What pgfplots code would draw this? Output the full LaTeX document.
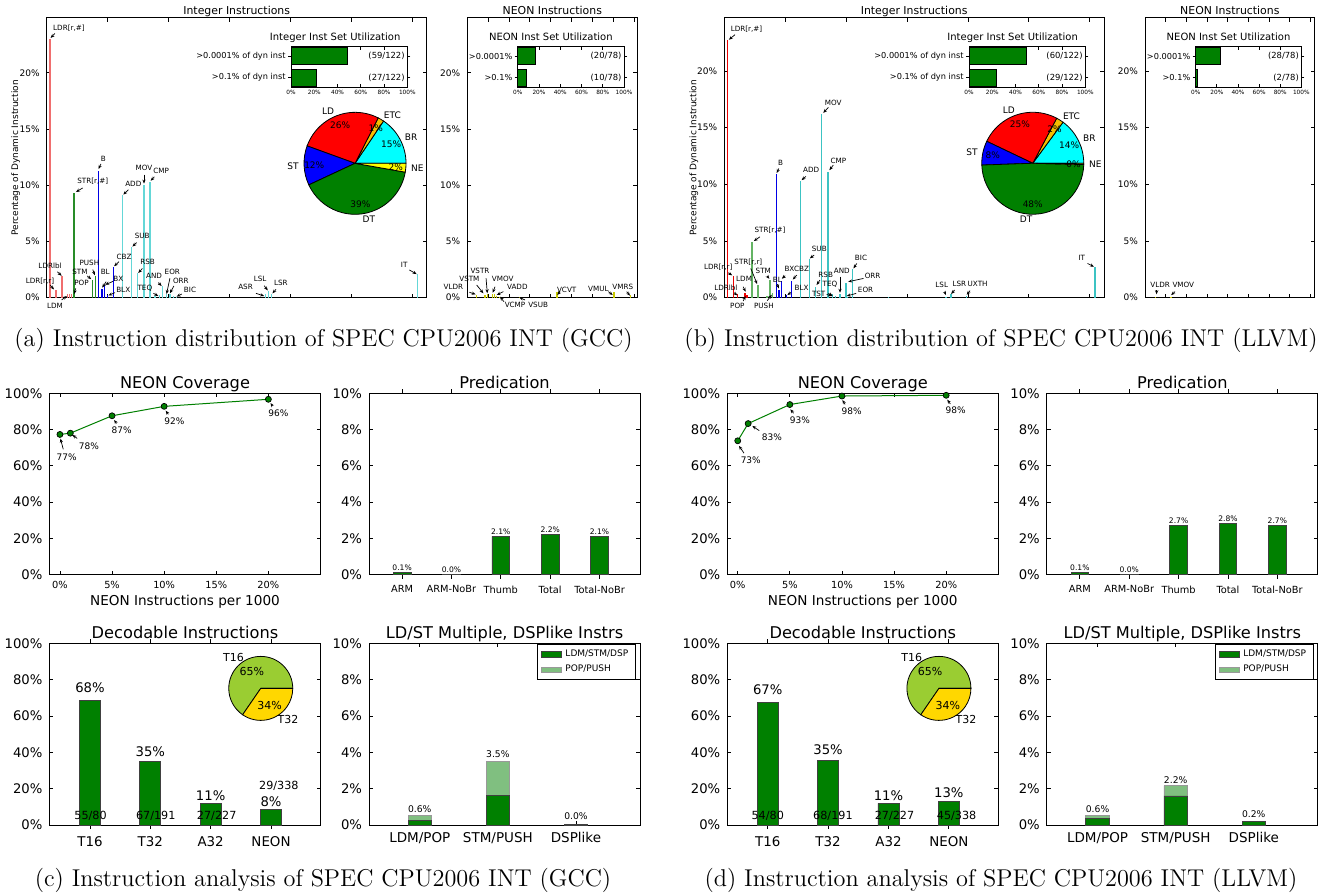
\documentclass[border=0pt]{standalone}
\usepackage{pgfplots}
\pgfplotsset{compat=1.18}
\usepackage{fontspec}
\usetikzlibrary{arrows.meta}
\newfontfamily\dv{DejaVu Sans}
\newcommand\fs[1]{\dv\fontsize{#1}{#1}\selectfont}
\definecolor{mg}{rgb}{0,0.5,0}
\definecolor{lg}{rgb}{0.5,0.75,0.5}
\definecolor{ldA}{RGB}{240,110,110}
\definecolor{stA}{RGB}{40,140,40}
\definecolor{brA}{RGB}{0,0,230}
\definecolor{aluA}{RGB}{100,215,215}
\definecolor{ldB}{RGB}{235,0,0}
\definecolor{stB}{RGB}{100,180,100}
\definecolor{brB}{RGB}{0,0,230}
\definecolor{aluB}{RGB}{60,195,195}
\definecolor{neo}{RGB}{200,200,0}
\definecolor{pLD}{RGB}{255,0,0}
\definecolor{pETC}{RGB}{245,190,0}
\definecolor{pNE}{RGB}{255,255,0}
\definecolor{pBR}{RGB}{0,255,255}
\definecolor{pST}{RGB}{0,0,255}
\definecolor{pDT}{RGB}{0,128,0}
\definecolor{t16c}{RGB}{154,205,50}
\definecolor{t32c}{RGB}{255,215,0}
\tikzset{ann/.style={-{Stealth[length=2pt,width=1.6pt]}, line width=0.35pt}}
\pgfplotsset{
  mybase/.style={scale only axis, clip=false, anchor=south west,
    axis line style={line width=0.5pt}, tick align=inside, tick pos=both,
    major tick length=2pt, every tick/.style={black, line width=0.4pt},
    /pgf/number format/assume math mode=true,
    yticklabel={\pgfmathprintnumber{\tick}\%}},
  inset/.style={mybase, xbar, bar width=0.8, xmin=0, xmax=100, ymin=-0.45, ymax=1.45,
    height=20.3pt, ytick={0,1}, xtick={0,20,...,100}, major tick length=1.5pt,
    xticklabel={\pgfmathprintnumber{\tick}\%},
    xticklabel style={font=\fs{2.9}, inner sep=1pt}, yticklabel style={font=\fs{4.1}, inner sep=1pt}},
  ldleg/.style={legend cell align=left,
    legend style={at={(1,1)}, anchor=north east, xshift=-2pt, yshift=-0.4pt, font=\fs{4.5}, draw=black, line width=0.5pt, inner xsep=2pt, inner ysep=1.5pt, row sep=1.2pt, nodes={inner ysep=0.9pt, inner xsep=1.6pt}},
    legend image code/.code={\draw[##1, line width=0.4pt] (0pt,-1.4pt) rectangle (10pt,1.4pt);}},
}
% annotation: size, label x,y, arrow from x,y, arrow to x,y, text
\newcommand\an[8]{\draw[ann] (axis cs:#4,#5) -- (axis cs:#6,#7); \node[font=\fs{#1}, inner sep=0pt] at (axis cs:#2,#3) {#8};}
\newcommand\slice[5]{\filldraw[fill=#5, draw=black, line width=0.4pt] (#1) -- ++(#3:#2) arc[start angle=#3, end angle=#4, radius=#2] -- cycle;}
\newcommand\plab[6]{\path (#1) ++(#2:#3) node[anchor=#4, font=\fs{#5}, inner sep=0pt] {#6};}
\begin{document}
\begin{tikzpicture}
\useasboundingbox (0,0) rectangle (668pt,-447.5pt);
\fill[white] (0,0) rectangle (668pt,-447.5pt);

%================ (a) Integer =================
\begin{axis}[mybase, at={(23.35pt,-148.85pt)}, width=190pt, height=140pt,
  xmin=0, xmax=124.6, ymin=0, ymax=24.9, xtick={0,20,...,120}, xticklabels={},
  ytick={0,5,...,20}, yticklabel style={font=\fs{4.5}}]
\addplot[ycomb, draw=ldA, line width=0.7pt] coordinates {(1.1,23.0) (3.1,0.68) (5.0,1.93) (6.8,0.3) (7.4,0.3) (8.1,0.3)};
\addplot[ycomb, draw=stA, line width=0.7pt] coordinates {(9.0,9.35) (15.1,1.58) (16.0,1.9)};
\addplot[ycomb, draw=brA, line width=0.7pt] coordinates {(16.9,11.3) (18.1,0.8) (18.9,1.1) (20.0,0.2) (21.9,2.7)};
\addplot[ycomb, draw=aluA, line width=0.7pt] coordinates {(24.9,9.1) (27.9,4.5) (29.8,2.17) (31.9,10.06) (33.9,10.3) (35.5,0.15) (37.0,0.25) (37.9,1.04) (39.3,0.3) (40.4,0.35) (41.5,0.15) (42.6,0.1) (71.8,0.3) (72.7,0.6) (73.8,0.33) (121.5,2.1)};
\node[font=\fs{5.45}, anchor=base, yshift=1.85pt] at (rel axis cs:0.5,1) {Integer Instructions};
\node[font=\fs{4.5}, rotate=90] at (rel axis cs:-0.0816,0.5) {Percentage of Dynamic Instruction};
\an{3.6}{7.3}{24.0}{2.7}{23.5}{1.3}{23.1}{LDR[r,\#]}
\an{3.6}{-2.2}{1.49}{1.1}{1.13}{2.4}{0.74}{LDR[r,r]}
\an{3.6}{1.1}{2.83}{3.5}{2.3}{4.9}{1.95}{LDRlbl}
\an{3.6}{2.7}{-0.74}{4.9}{-0.2}{6.6}{0.15}{LDM}
\an{3.6}{11.4}{1.28}{9.5}{0.83}{9.0}{0.33}{POP}
\an{3.6}{15.1}{10.36}{11.8}{9.76}{9.6}{9.4}{STR[r,\#]}
\an{3.6}{10.9}{2.3}{13.3}{1.93}{14.6}{1.65}{STM}
\an{3.6}{14.0}{3.1}{15.1}{2.5}{15.8}{2.0}{PUSH}
\an{3.6}{18.6}{12.35}{17.8}{11.9}{17.0}{11.45}{B}
\an{3.6}{19.2}{2.26}{19.5}{1.43}{18.2}{0.9}{BL}
\an{3.6}{23.5}{1.67}{21.7}{1.45}{19.2}{1.15}{BX}
\an{3.6}{25.1}{0.68}{22.4}{0.45}{20.2}{0.2}{BLX}
\an{3.6}{25.4}{3.66}{23.7}{3.2}{22.1}{2.8}{CBZ}
\an{3.6}{28.4}{10.1}{26.8}{9.6}{25.1}{9.17}{ADD}
\an{3.6}{31.3}{5.5}{29.5}{4.9}{28.1}{4.55}{SUB}
\an{3.6}{33.1}{3.18}{31.4}{2.6}{30.0}{2.2}{RSB}
\an{3.6}{31.9}{11.55}{31.9}{10.95}{31.9}{10.15}{MOV}
\an{3.6}{37.5}{11.3}{35.3}{10.75}{34.1}{10.4}{CMP}
\an{3.6}{32.2}{0.83}{35.0}{0.39}{36.6}{0.15}{TEQ}
\an{3.6}{35.2}{1.93}{36.6}{1.34}{37.7}{1.04}{AND}
\an{3.6}{41.2}{2.26}{40.4}{1.73}{39.3}{0.33}{EOR}
\an{3.6}{44.0}{1.49}{41.7}{1.04}{40.4}{0.39}{ORR}
\an{3.6}{47.0}{0.68}{44.3}{0.33}{42.6}{0.1}{BIC}
\an{3.6}{65.2}{0.92}{68.6}{0.39}{71.3}{0.15}{ASR}
\an{3.6}{70.0}{1.64}{71.3}{1.07}{72.5}{0.65}{LSL}
\an{3.6}{76.8}{1.28}{75.2}{0.74}{74.0}{0.39}{LSR}
\an{3.6}{117.2}{2.89}{118.9}{2.47}{121.3}{2.1}{IT}
% pie
\slice{axis cs:101.1,11.95}{25.5pt}{0}{56}{pBR}
\slice{axis cs:101.1,11.95}{25.5pt}{56}{63}{pETC}
\slice{axis cs:101.1,11.95}{25.5pt}{63}{160}{pLD}
\slice{axis cs:101.1,11.95}{25.5pt}{160}{205}{pST}
\slice{axis cs:101.1,11.95}{25.5pt}{205}{350}{pDT}
\slice{axis cs:101.1,11.95}{25.5pt}{350}{360}{pNE}
\plab{axis cs:101.1,11.95}{28}{28pt}{west}{4.5}{BR}
\plab{axis cs:101.1,11.95}{59.5}{28pt}{west}{4.5}{ETC}
\plab{axis cs:101.1,11.95}{111.5}{28pt}{east}{4.5}{LD}
\plab{axis cs:101.1,11.95}{182.5}{28pt}{east}{4.5}{ST}
\plab{axis cs:101.1,11.95}{277.5}{28pt}{west}{4.5}{DT}
\plab{axis cs:101.1,11.95}{355}{28pt}{west}{4.5}{NE}
\plab{axis cs:101.1,11.95}{28}{20.4pt}{center}{4.5}{15\%}
\plab{axis cs:101.1,11.95}{59.5}{20.4pt}{center}{4.5}{1\%}
\plab{axis cs:101.1,11.95}{111.5}{20.4pt}{center}{4.5}{26\%}
\plab{axis cs:101.1,11.95}{182.5}{20.4pt}{center}{4.5}{12\%}
\plab{axis cs:101.1,11.95}{277.5}{20.4pt}{center}{4.5}{39\%}
\plab{axis cs:101.1,11.95}{355}{20.4pt}{center}{4.5}{2\%}
\end{axis}

\begin{axis}[inset, at={(145.5pt,-43.65pt)}, width=58.15pt,
  yticklabels={{>0.1\% of dyn inst},{>0.0001\% of dyn inst}}]
\addplot[fill=mg, draw=black, line width=0.4pt] coordinates {(22.1,0) (48.4,1)};
\node[font=\fs{5}, anchor=base, yshift=3.35pt, xshift=-7pt] at (rel axis cs:0.5,1) {Integer Inst Set Utilization};
\node[font=\fs{4.2}, anchor=east, inner sep=0pt] at (axis cs:98,1) {(59/122)};
\node[font=\fs{4.2}, anchor=east, inner sep=0pt] at (axis cs:98,0) {(27/122)};
\end{axis}

%================ (a) NEON =================
\begin{axis}[mybase, at={(233.65pt,-148.85pt)}, width=85pt, height=140pt,
  xmin=0, xmax=81.6, ymin=0, ymax=24.9, xtick={0,10,...,80}, xticklabels={},
  ytick={0,5,...,20}, yticklabel style={font=\fs{4.5}}]
\addplot[ycomb, draw=neo, line width=0.7pt] coordinates {(4.5,0.25) (8.5,0.2) (9.6,0.3) (12.2,0.35) (13,0.3) (14.1,0.15) (15.7,0.08) (25,0.05) (43,0.54) (70.4,0.54) (78.4,0.2)};
\node[font=\fs{5.45}, anchor=base, yshift=1.85pt] at (rel axis cs:0.5,1) {NEON Instructions};
\an{3.6}{-6.7}{0.98}{1}{0.48}{4}{0.3}{VLDR}
\an{3.6}{1}{1.64}{4.5}{1.13}{7.7}{0.39}{VSTM}
\an{3.6}{6.1}{2.4}{9}{1.73}{9.6}{0.39}{VSTR}
\an{3.6}{17}{1.64}{13.3}{0.98}{12.2}{0.45}{VMOV}
\an{3.6}{24}{0.98}{17.3}{0.54}{14.1}{0.24}{VADD}
\an{3.6}{22.9}{-0.65}{17.6}{-0.36}{15.7}{0.09}{VCMP}
\an{3.6}{34}{-0.65}{27.7}{-0.2}{25}{0.02}{VSUB}
\an{3.6}{47.7}{0.74}{44.5}{0.54}{43.2}{0.24}{VCVT}
\an{3.6}{62.9}{0.74}{67.7}{0.54}{69.8}{0.24}{VMUL}
\an{3.6}{74.6}{0.92}{76.5}{0.54}{78.1}{0.18}{VMRS}
\end{axis}

\begin{axis}[inset, at={(258.85pt,-43.65pt)}, width=53.15pt,
  yticklabels={{>0.1\%},{>0.0001\%}}]
\addplot[fill=mg, draw=black, line width=0.4pt] coordinates {(8.5,0) (16.9,1)};
\node[font=\fs{5}, anchor=base, yshift=3.35pt, xshift=-10pt] at (rel axis cs:0.5,1) {NEON Inst Set Utilization};
\node[font=\fs{4.2}, anchor=east, inner sep=0pt] at (axis cs:98,1) {(20/78)};
\node[font=\fs{4.2}, anchor=east, inner sep=0pt] at (axis cs:98,0) {(10/78)};
\end{axis}

%================ (b) Integer =================
\begin{axis}[mybase, at={(362.15pt,-148.85pt)}, width=189.85pt, height=140pt,
  xmin=0, xmax=124.7, ymin=0, ymax=24.7, xtick={0,20,...,120}, xticklabels={},
  ytick={0,5,...,20}, yticklabel style={font=\fs{4.5}}]
\addplot[ycomb, draw=ldB, line width=0.7pt] coordinates {(1.1,22.7) (3.0,1.9) (4.3,0.3) (6.8,0.4) (7.5,0.25)};
\addplot[ycomb, draw=stB, line width=0.7pt] coordinates {(9.1,4.93) (11.0,1.1) (14.0,0.15) (15.0,1.56) (15.9,0.44)};
\addplot[ycomb, draw=brB, line width=0.7pt] coordinates {(17.1,10.87) (18.0,0.68) (18.8,1.47) (20.5,0.2) (22.1,1.5)};
\addplot[ycomb, draw=aluB, line width=0.7pt] coordinates {(25.1,10.28) (27.9,3.38) (29.9,0.97) (32.0,16.2) (34.0,11.1) (35.5,0.3) (36.5,0.15) (38.0,0.35) (39.9,1.32) (40.5,0.1) (42.1,2.5) (54,0.05) (72.8,0.1) (74.5,0.3) (79.6,0.15) (121.8,2.67)};
\node[font=\fs{5.45}, anchor=base, yshift=1.85pt] at (rel axis cs:0.5,1) {Integer Instructions};
\node[font=\fs{4.5}, rotate=90] at (rel axis cs:-0.0798,0.5) {Percentage of Dynamic Instruction};
\an{3.6}{7.3}{23.67}{3.5}{23.2}{1.5}{22.76}{LDR[r,\#]}
\an{3.6}{-2.0}{2.67}{1.3}{2.2}{2.6}{1.97}{LDR[r,r]}
\an{3.6}{7.9}{3.11}{8.7}{2.58}{10.8}{1.2}{STR[r,r]}
\an{3.6}{6.5}{1.64}{6.2}{0.97}{7.0}{0.53}{LDM}
\an{3.6}{0.5}{0.91}{3.2}{0.44}{4.3}{0.2}{LDRlbl}
\an{3.6}{4.3}{-0.73}{6.2}{-0.29}{7.0}{0.15}{POP}
\an{3.6}{15.0}{5.96}{11.7}{5.37}{9.7}{5.0}{STR[r,\#]}
\an{3.6}{12.8}{2.35}{14.1}{1.9}{14.8}{1.67}{STM}
\an{3.6}{13.0}{-0.73}{14.1}{-0.26}{15.6}{0.26}{PUSH}
\an{3.6}{18.5}{11.9}{17.9}{11.4}{17.2}{11.0}{B}
\an{3.6}{17.4}{1.6}{17.4}{1.2}{17.9}{0.82}{BL}
\an{3.6}{21.4}{2.58}{20.0}{1.94}{18.9}{1.67}{BX}
\an{3.6}{25.4}{2.58}{23.8}{2.0}{22.5}{1.6}{CBZ}
\an{3.6}{25.4}{0.91}{21.9}{0.47}{20.7}{0.23}{BLX}
\an{3.6}{28.5}{11.3}{26.8}{10.7}{25.4}{10.37}{ADD}
\an{3.6}{31.2}{4.35}{29.5}{3.76}{28.1}{3.47}{SUB}
\an{3.6}{35.8}{17.2}{34.2}{16.8}{32.5}{16.3}{MOV}
\an{3.6}{37.5}{12.1}{35.8}{11.7}{34.5}{11.25}{CMP}
\an{3.6}{33.3}{2.0}{31.4}{1.56}{30.3}{1.12}{RSB}
\an{3.6}{34.7}{1.17}{34.2}{0.38}{35.6}{0.15}{TEQ}
\an{3.6}{31.0}{0.38}{33.6}{0.29}{35.3}{0.15}{TST}
\an{3.6}{38.6}{2.35}{38.0}{1.85}{38.0}{0.44}{AND}
\an{3.6}{48.7}{1.91}{45.7}{1.7}{40.7}{1.41}{ORR}
\an{3.6}{44.9}{3.52}{43.5}{3.02}{42.4}{2.58}{BIC}
\an{3.6}{46.4}{0.65}{43.3}{0.38}{40.2}{0.15}{EOR}
\an{3.6}{71.4}{1.12}{72.3}{0.53}{72.8}{0.23}{LSL}
\an{3.6}{77.2}{1.2}{75.6}{0.68}{74.5}{0.32}{LSR}
\an{3.6}{83.2}{1.2}{80.7}{0.62}{79.6}{0.26}{UXTH}
\an{3.6}{117.4}{3.47}{119.3}{3.02}{121.4}{2.73}{IT}
% pie
\slice{axis cs:101.3,11.86}{25.5pt}{0}{53.6}{pBR}
\slice{axis cs:101.3,11.86}{25.5pt}{53.6}{62}{pETC}
\slice{axis cs:101.3,11.86}{25.5pt}{62}{154.5}{pLD}
\slice{axis cs:101.3,11.86}{25.5pt}{154.5}{182}{pST}
\slice{axis cs:101.3,11.86}{25.5pt}{182}{358.5}{pDT}
\slice{axis cs:101.3,11.86}{25.5pt}{358.5}{360}{pNE}
\plab{axis cs:101.3,11.86}{26.8}{28pt}{west}{4.5}{BR}
\plab{axis cs:101.3,11.86}{57.8}{28pt}{west}{4.5}{ETC}
\plab{axis cs:101.3,11.86}{108.25}{28pt}{east}{4.5}{LD}
\plab{axis cs:101.3,11.86}{168.25}{28pt}{east}{4.5}{ST}
\plab{axis cs:101.3,11.86}{270}{28pt}{east}{4.5}{DT}
\plab{axis cs:101.3,11.86}{359.2}{28pt}{west}{4.5}{NE}
\plab{axis cs:101.3,11.86}{26.8}{20.4pt}{center}{4.5}{14\%}
\plab{axis cs:101.3,11.86}{57.8}{20.4pt}{center}{4.5}{2\%}
\plab{axis cs:101.3,11.86}{108.25}{20.4pt}{center}{4.5}{25\%}
\plab{axis cs:101.3,11.86}{168.25}{20.4pt}{center}{4.5}{8\%}
\plab{axis cs:101.3,11.86}{270}{20.4pt}{center}{4.5}{48\%}
\plab{axis cs:101.3,11.86}{359.2}{20.4pt}{center}{4.5}{0\%}
\end{axis}

\begin{axis}[inset, at={(484.5pt,-43.65pt)}, width=58.15pt,
  yticklabels={{>0.1\% of dyn inst},{>0.0001\% of dyn inst}}]
\addplot[fill=mg, draw=black, line width=0.4pt] coordinates {(23.8,0) (49.2,1)};
\node[font=\fs{5}, anchor=base, yshift=3.35pt, xshift=-7.25pt] at (rel axis cs:0.5,1) {Integer Inst Set Utilization};
\node[font=\fs{4.2}, anchor=east, inner sep=0pt] at (axis cs:98,1) {(60/122)};
\node[font=\fs{4.2}, anchor=east, inner sep=0pt] at (axis cs:98,0) {(29/122)};
\end{axis}

%================ (b) NEON =================
\begin{axis}[mybase, at={(572.5pt,-148.85pt)}, width=84.85pt, height=140pt,
  xmin=0, xmax=82, ymin=0, ymax=24.7, xtick={0,10,...,80}, xticklabels={},
  ytick={0,5,...,20}, yticklabel style={font=\fs{4.5}}]
\addplot[ycomb, draw=neo, line width=0.7pt] coordinates {(5.2,0.1) (12.6,0.08)};
\node[font=\fs{5.45}, anchor=base, yshift=1.85pt] at (rel axis cs:0.5,1) {NEON Instructions};
\an{3.6}{7.3}{1.12}{5.6}{0.68}{5.6}{0.3}{VLDR}
\an{3.6}{18.5}{1.12}{14.5}{0.53}{12.6}{0.23}{VMOV}
\end{axis}

\begin{axis}[inset, at={(597.85pt,-43.65pt)}, width=52.8pt,
  yticklabels={{>0.1\%},{>0.0001\%}}]
\addplot[fill=mg, draw=black, line width=0.4pt] coordinates {(2,0) (23,1)};
\node[font=\fs{5}, anchor=base, yshift=3.35pt, xshift=-10pt] at (rel axis cs:0.5,1) {NEON Inst Set Utilization};
\node[font=\fs{4.2}, anchor=east, inner sep=0pt] at (axis cs:98,1) {(28/78)};
\node[font=\fs{4.2}, anchor=east, inner sep=0pt] at (axis cs:98,0) {(2/78)};
\end{axis}

%================ (c) NEON Coverage =================
\begin{axis}[mybase, at={(24.75pt,-287.25pt)}, width=135.5pt, height=90.6pt,
  xmin=-1, xmax=25, ymin=0, ymax=100, xtick={0,5,...,20}, ytick={0,20,...,100},
  xticklabel={\pgfmathprintnumber{\tick}\%},
  xticklabel style={font=\fs{4.9}}, yticklabel style={font=\fs{6.6}}]
\addplot[mg, line width=0.5pt, mark=*, mark size=1.5pt, mark options={fill=mg, draw=black, line width=0.35pt}] coordinates {(0,77.3) (1,78.0) (5,87.6) (10,92.8) (20,96.7)};
\node[font=\fs{8.1}, anchor=base, yshift=2.5pt] at (rel axis cs:0.5,1) {NEON Coverage};
\node[font=\fs{6.8}, anchor=base, yshift=-15.25pt] at (rel axis cs:0.5,0) {NEON Instructions per 1000};
\an{4.5}{0.64}{64.6}{0.32}{69.1}{0.05}{75}{77\%}
\an{4.5}{2.78}{70.9}{1.66}{75.1}{1.2}{77}{78\%}
\an{4.5}{5.93}{79.4}{5.43}{83.4}{5.2}{85.3}{87\%}
\an{4.5}{10.98}{84.7}{10.4}{88.4}{10.15}{90.4}{92\%}
\an{4.5}{20.96}{88.8}{20.4}{93}{20.2}{94.6}{96\%}
\end{axis}

%================ (c) Predication =================
\begin{axis}[mybase, at={(184.5pt,-287.25pt)}, width=135.5pt, height=90.6pt,
  ybar, bar width=0.36, xmin=-0.67, xmax=4.82, ymin=0, ymax=10,
  xtick={0,...,4}, xticklabels={ARM,ARM-NoBr,Thumb,Total,Total-NoBr}, ytick={0,2,...,10},
  xticklabel style={font=\fs{4.9}}, yticklabel style={font=\fs{6.6}},
  nodes near coords={\pgfmathprintnumber[fixed,fixed zerofill,precision=1]{\pgfplotspointmeta}\%},
  every node near coord/.append style={font=\fs{3.8}, inner sep=0.8pt}]
\addplot[fill=mg, draw=black!75, line width=0.4pt] coordinates {(0,0.1) (1,0.02) (2,2.1) (3,2.2) (4,2.1)};
\node[font=\fs{8.1}, anchor=base, yshift=2.5pt] at (rel axis cs:0.5,1) {Predication};
\end{axis}

%================ (c) Decodable =================
\begin{axis}[mybase, at={(24.75pt,-412.5pt)}, width=135.5pt, height=90.85pt,
  ybar, bar width=0.35, xmin=-0.67, xmax=3.82, ymin=0, ymax=100,
  xtick={0,...,3}, xticklabels={T16,T32,A32,NEON}, ytick={0,20,...,100},
  xticklabel style={font=\fs{6.7}}, yticklabel style={font=\fs{6.6}}]
\addplot[fill=mg, draw=black!75, line width=0.4pt] coordinates {(0,68.7) (1,35.0) (2,11.8) (3,8.5)};
\node[font=\fs{8.1}, anchor=base, yshift=2.5pt] at (rel axis cs:0.5,1) {Decodable Instructions};
\node[font=\fs{6.6}] at (axis cs:0,75.8) {68\%};
\node[font=\fs{6.6}] at (axis cs:1,40.6) {35\%};
\node[font=\fs{6.6}] at (axis cs:2,16.3) {11\%};
\node[font=\fs{6.6}] at (axis cs:3,12.8) {8\%};
\node[font=\fs{5.6}] at (axis cs:0.01,5.1) {55/80};
\node[font=\fs{5.6}] at (axis cs:1.09,5.1) {67/191};
\node[font=\fs{5.6}] at (axis cs:2.1,5.1) {27/227};
\node[font=\fs{5.6}] at (axis cs:3.13,21.5) {29/338};
\slice{axis cs:2.83,75.2}{16pt}{0}{235.5}{t16c}
\slice{axis cs:2.83,75.2}{16pt}{235.5}{360}{t32c}
\plab{axis cs:2.83,75.2}{117.75}{17.6pt}{east}{5.5}{T16}
\plab{axis cs:2.83,75.2}{297.75}{17.6pt}{west}{5.5}{T32}
\plab{axis cs:2.83,75.2}{117.75}{9.6pt}{center}{5.5}{65\%}
\plab{axis cs:2.83,75.2}{297.75}{9.6pt}{center}{5.5}{34\%}
\end{axis}

%================ (c) LD/ST =================
\begin{axis}[mybase, at={(184.5pt,-412.5pt)}, width=135.5pt, height=90.85pt,
  ybar stacked, bar width=0.3, xmin=-0.65, xmax=2.82, ymin=0, ymax=10,
  xtick={0,1,2}, xticklabels={LDM/POP,STM/PUSH,DSPlike}, ytick={0,2,...,10},
  xticklabel style={font=\fs{6.75}}, yticklabel style={font=\fs{6.6}}, ldleg]
\addplot[fill=mg, draw=black!75, line width=0.4pt] coordinates {(0,0.27) (1,1.65) (2,0.03)};
\addlegendentry{LDM/STM/DSP}
\addplot[fill=lg, draw=black!40, line width=0.4pt] coordinates {(0,0.28) (1,1.85) (2,0)};
\addlegendentry{POP/PUSH}
\node[font=\fs{8.1}, anchor=base, yshift=2.5pt] at (rel axis cs:0.5,1) {LD/ST Multiple, DSPlike Instrs};
\node[font=\fs{4.6}] at (axis cs:0,0.9) {0.6\%};
\node[font=\fs{4.6}] at (axis cs:1,3.9) {3.5\%};
\node[font=\fs{4.6}] at (axis cs:2,0.5) {0.0\%};
\end{axis}

%================ (d) NEON Coverage =================
\begin{axis}[mybase, at={(363.65pt,-287.25pt)}, width=135.5pt, height=90.6pt,
  xmin=-1, xmax=25, ymin=0, ymax=100, xtick={0,5,...,20}, ytick={0,20,...,100},
  xticklabel={\pgfmathprintnumber{\tick}\%},
  xticklabel style={font=\fs{4.9}}, yticklabel style={font=\fs{6.6}}]
\addplot[mg, line width=0.5pt, mark=*, mark size=1.5pt, mark options={fill=mg, draw=black, line width=0.35pt}] coordinates {(0,73.8) (1,83.3) (5,93.8) (10,98.5) (20,98.9)};
\node[font=\fs{8.1}, anchor=base, yshift=2.5pt] at (rel axis cs:0.5,1) {NEON Coverage};
\node[font=\fs{6.8}, anchor=base, yshift=-15.25pt] at (rel axis cs:0.5,0) {NEON Instructions per 1000};
\an{4.5}{1.25}{63.3}{0.6}{67}{0.12}{71}{73\%}
\an{4.5}{3.27}{75.8}{2.06}{79.4}{1.4}{82}{83\%}
\an{4.5}{5.97}{85.3}{5.36}{89}{5.04}{91.2}{93\%}
\an{4.5}{10.93}{90.3}{10.3}{93.9}{10.04}{96.3}{98\%}
\an{4.5}{20.9}{90.8}{20.4}{94.1}{20.1}{96.5}{98\%}
\end{axis}

%================ (d) Predication =================
\begin{axis}[mybase, at={(523.4pt,-287.25pt)}, width=135.5pt, height=90.6pt,
  ybar, bar width=0.36, xmin=-0.67, xmax=4.82, ymin=0, ymax=10,
  xtick={0,...,4}, xticklabels={ARM,ARM-NoBr,Thumb,Total,Total-NoBr}, ytick={0,2,...,10},
  xticklabel style={font=\fs{4.9}}, yticklabel style={font=\fs{6.6}},
  nodes near coords={\pgfmathprintnumber[fixed,fixed zerofill,precision=1]{\pgfplotspointmeta}\%},
  every node near coord/.append style={font=\fs{3.8}, inner sep=0.8pt}]
\addplot[fill=mg, draw=black!75, line width=0.4pt] coordinates {(0,0.1) (1,0.02) (2,2.7) (3,2.8) (4,2.7)};
\node[font=\fs{8.1}, anchor=base, yshift=2.5pt] at (rel axis cs:0.5,1) {Predication};
\end{axis}

%================ (d) Decodable =================
\begin{axis}[mybase, at={(363.65pt,-412.5pt)}, width=135.5pt, height=90.85pt,
  ybar, bar width=0.35, xmin=-0.67, xmax=3.82, ymin=0, ymax=100,
  xtick={0,...,3}, xticklabels={T16,T32,A32,NEON}, ytick={0,20,...,100},
  xticklabel style={font=\fs{6.7}}, yticklabel style={font=\fs{6.6}}]
\addplot[fill=mg, draw=black!75, line width=0.4pt] coordinates {(0,67.3) (1,35.4) (2,11.9) (3,13.2)};
\node[font=\fs{8.1}, anchor=base, yshift=2.5pt] at (rel axis cs:0.5,1) {Decodable Instructions};
\node[font=\fs{6.6}] at (axis cs:0,74.7) {67\%};
\node[font=\fs{6.6}] at (axis cs:1,41.3) {35\%};
\node[font=\fs{6.6}] at (axis cs:2,16.3) {11\%};
\node[font=\fs{6.6}] at (axis cs:3,17.8) {13\%};
\node[font=\fs{5.6}] at (axis cs:0.0,5.1) {54/80};
\node[font=\fs{5.6}] at (axis cs:1.08,5.1) {68/191};
\node[font=\fs{5.6}] at (axis cs:2.1,5.1) {27/227};
\node[font=\fs{5.6}] at (axis cs:3.13,5.1) {45/338};
\slice{axis cs:2.836,75.2}{16pt}{0}{235.5}{t16c}
\slice{axis cs:2.836,75.2}{16pt}{235.5}{360}{t32c}
\plab{axis cs:2.836,75.2}{117.75}{17.6pt}{east}{5.5}{T16}
\plab{axis cs:2.836,75.2}{297.75}{17.6pt}{west}{5.5}{T32}
\plab{axis cs:2.836,75.2}{117.75}{9.6pt}{center}{5.5}{65\%}
\plab{axis cs:2.836,75.2}{297.75}{9.6pt}{center}{5.5}{34\%}
\end{axis}

%================ (d) LD/ST =================
\begin{axis}[mybase, at={(523.4pt,-412.5pt)}, width=135.5pt, height=90.85pt,
  ybar stacked, bar width=0.3, xmin=-0.65, xmax=2.82, ymin=0, ymax=10,
  xtick={0,1,2}, xticklabels={LDM/POP,STM/PUSH,DSPlike}, ytick={0,2,...,10},
  xticklabel style={font=\fs{6.75}}, yticklabel style={font=\fs{6.6}}, ldleg]
\addplot[fill=mg, draw=black!75, line width=0.4pt] coordinates {(0,0.38) (1,1.6) (2,0.22)};
\addlegendentry{LDM/STM/DSP}
\addplot[fill=lg, draw=black!40, line width=0.4pt] coordinates {(0,0.17) (1,0.57) (2,0)};
\addlegendentry{POP/PUSH}
\node[font=\fs{8.1}, anchor=base, yshift=2.5pt] at (rel axis cs:0.5,1) {LD/ST Multiple, DSPlike Instrs};
\node[font=\fs{4.6}] at (axis cs:0,0.86) {0.6\%};
\node[font=\fs{4.6}] at (axis cs:1,2.48) {2.2\%};
\node[font=\fs{4.6}] at (axis cs:2,0.6) {0.2\%};
\end{axis}

%================ captions =================
\node[font=\fontsize{12.15}{14}\selectfont, anchor=base] at (161.75pt,-173pt) {(a) Instruction distribution of SPEC CPU2006 INT (GCC)};
\node[font=\fontsize{12.15}{14}\selectfont, anchor=base] at (500.5pt,-173pt) {(b) Instruction distribution of SPEC CPU2006 INT (LLVM)};
\node[font=\fontsize{12.15}{14}\selectfont, anchor=base] at (161.5pt,-443pt) {(c) Instruction analysis of SPEC CPU2006 INT (GCC)};
\node[font=\fontsize{12.15}{14}\selectfont, anchor=base] at (500.5pt,-443pt) {(d) Instruction analysis of SPEC CPU2006 INT (LLVM)};
\end{tikzpicture}
\end{document}
